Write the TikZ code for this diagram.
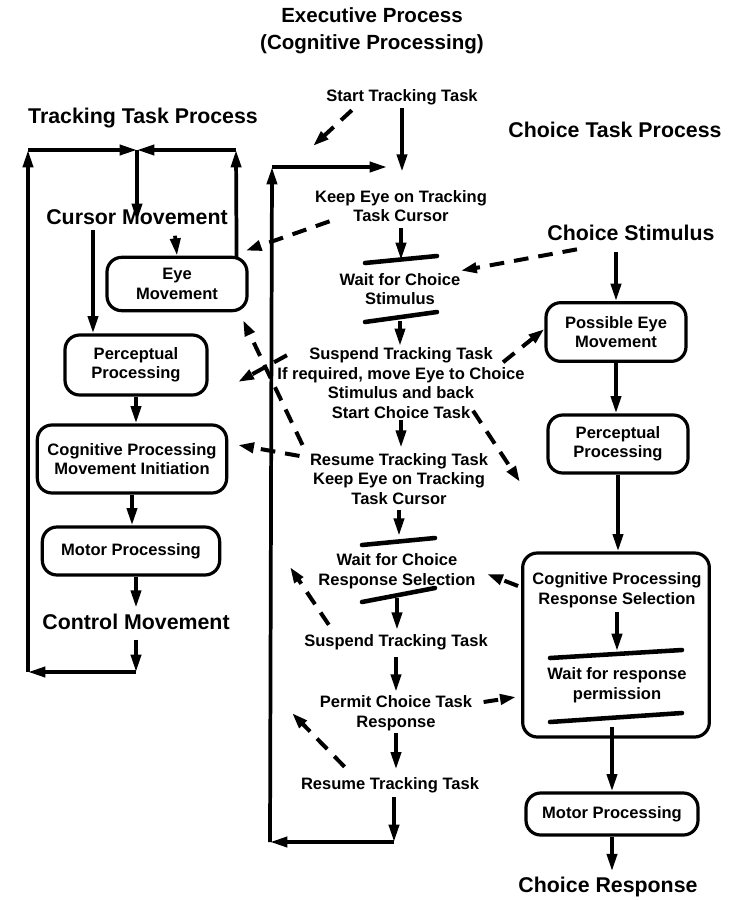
\documentclass[tikz,border=0pt]{standalone}
\usepackage{fontspec}
\setmainfont{Liberation Sans}
\usepackage{tikz}
\usetikzlibrary{arrows.meta,calc}
\tikzset{every picture/.style={line width=0.75pt}}
\tikzset{
  bigtext/.style={inner sep=0pt, align=center, font=\bfseries\fontsize{16}{20}\selectfont},
  stagetext/.style={inner sep=0pt, align=center, font=\bfseries\fontsize{12.4}{14.6}\selectfont},
  procbox/.style={draw, line width=2.4pt, rounded corners=11pt, inner sep=0pt, align=center, font=\bfseries\fontsize{12.4}{14.6}\selectfont},
  flow/.style={line width=2.8pt, -{Triangle[length=13pt,width=7.5pt]}},
  signal/.style={line width=3pt, dash pattern=on 11pt off 7.5pt, -{Triangle[length=12pt,width=7.5pt]}},
  waitbar/.style={line width=3.4pt, line cap=round},
}

\begin{document}
\begin{tikzpicture}[x=0.75pt,y=0.75pt,yscale=-1,xscale=1]
\path[use as bounding box] (0,0) rectangle (746,900);

% Text Node
\draw (372,31) node [bigtext, font=\bfseries\fontsize{15.4}{20}\selectfont] (exec) {Executive Process\\(Cognitive Processing)};
% Text Node
\draw (143,118) node [bigtext] (ttp) {Tracking Task Process};
% Text Node
\draw (615,130) node [bigtext] (ctp) {Choice Task Process};

%Tracking task process
\draw (137,217) node [bigtext] (cursor) {Cursor Movement};
\draw (177,284) node [procbox, minimum width=105pt, minimum height=40pt] (eyemv) {Eye\\Movement};
\draw (136,365) node [procbox, minimum width=106.5pt, minimum height=45pt] (percL) {Perceptual\\Processing};
\draw (132,459) node [procbox, minimum width=142pt, minimum height=51pt] (cogL) {Cognitive Processing\\Movement Initiation};
\draw (131,551) node [procbox, minimum width=133pt, minimum height=36pt] (motorL) {Motor Processing};
\draw (136,622) node [bigtext] (control) {Control Movement};

%Executive process
\draw (402,97) node [stagetext] (start) {Start Tracking Task};
\draw (401,206) node [stagetext] (keep) {Keep Eye on Tracking\\Task Cursor};
\draw (400,289) node [stagetext] (waitstim) {Wait for Choice\\Stimulus};
\draw (401,383) node [stagetext] (suspend) {Suspend Tracking Task\\If required, move Eye to Choice\\Stimulus and back\\Start Choice Task};
\draw (399,479) node [stagetext] (resume) {Resume Tracking Task\\Keep Eye on Tracking\\Task Cursor};
\draw (397,571) node [stagetext] (waitsel) {Wait for Choice\\Response Selection};
\draw (396,642) node [stagetext] (suspendb) {Suspend Tracking Task};
\draw (396,713) node [stagetext] (permit) {Permit Choice Task\\Response};
\draw (390,785) node [stagetext] (resumeb) {Resume Tracking Task};

%Choice task process
\draw (631,233) node [bigtext] (cstim) {Choice Stimulus};
\draw (616,332) node [procbox, minimum width=105pt, minimum height=44pt] (posseye) {Possible Eye\\Movement};
\draw (618,444) node [procbox, minimum width=105pt, minimum height=43.5pt] (percR) {Perceptual\\Processing};
\draw (616,645) node [procbox, minimum width=140pt, minimum height=138pt] (cogR) {};
\draw (617,590) node [stagetext] (cogRt) {Cognitive Processing\\Response Selection};
\draw (617,685) node [stagetext] (waitperm) {Wait for response\\permission};
\draw (612,814) node [procbox, minimum width=129pt, minimum height=31.5pt] (motorR) {Motor Processing};
\draw (608,887) node [bigtext] (cresp) {Choice Response};

% loop corners
\coordinate (tl) at (28,150);
\coordinate (tm) at (137,150);
\coordinate (tr) at (236,150);
\coordinate (bl) at (28,672);
\coordinate (br) at (136,672);
\coordinate (mtl) at (272,167);
\coordinate (mtr) at (387,167);
\coordinate (mbl) at (270,842);
\coordinate (mbr) at (394,842);
% free ends of the dashed arrows
\coordinate (toloop) at (313,146);
\coordinate (toeye) at (243,320);
\coordinate (toperc) at (238,382);
\coordinate (tocog) at (238,445);
\coordinate (tochoice) at (520,482);
\coordinate (towait) at (487,574);
\coordinate (tomotor) at (290,567);
\coordinate (toctrl) at (292,713);

%Straight Lines
\draw [flow] (tm) -- ([yshift=9pt]cursor.north);
\draw [flow] ($(eyemv.north)+(-2,-20)$) -- (eyemv.north);
\draw [flow] ($(cursor.south)+(-44,5)$) -- ($(percL.north)+(-43,0)$);
\draw [flow] ($(eyemv.north east)+(-12,2)$) -- (tr);
\draw [flow] (tr) -- (tm);
\draw [flow] (percL.south) -- (percL.south |- cogL.north);
\draw [flow] (cogL.south) -- (cogL.south |- motorL.north);
\draw [flow, shorten >=4.5pt] (motorL.south -| control) -- (control.north);
\draw [flow, shorten <=7pt] (control.south) -- (br);
\draw [flow] (br) -- (bl);
\draw [flow] (bl) -- (tl);
\draw [flow] (tl) -- (tm);

\draw [flow, shorten <=2pt, shorten >=13.5pt] (start.south) -- (start.south |- keep.north);
\draw [flow, shorten <=4pt, shorten >=9.5pt] (keep.south) -- (keep.south |- waitstim.north);
\draw [flow, shorten <=12pt, shorten >=1pt] (waitstim.south) -- (waitstim.south |- suspend.north);
\draw [flow, shorten <=1pt, shorten >=4pt] (suspend.south) -- (suspend.south |- resume.north);
\draw [flow, shorten <=3.5pt, shorten >=13pt] (resume.south) -- (resume.south |- waitsel.north);
\draw [flow, shorten <=7pt, shorten >=3pt] (waitsel.south) -- (waitsel.south |- suspendb.north);
\draw [flow, shorten <=5pt, shorten >=2.5pt] (suspendb.south) -- (suspendb.south |- permit.north);
\draw [flow, shorten <=1.5pt, shorten >=5.5pt] (permit.south) -- (permit.south |- resumeb.north);
\draw [flow, shorten <=3pt] (resumeb.south -| mbr) -- (mbr);
\draw [flow] (mbr) -- (mbl);
\draw [flow] (mbl) -- (mtl);
\draw [flow] (mtl) -- (mtr);

\draw [flow, shorten <=8pt] (posseye.north |- cstim.south) -- (posseye.north);
\draw [flow] (posseye.south) -- (posseye.south |- percR.north);
\draw [flow] (percR.south) -- (percR.south |- cogR.north);
\draw [flow, shorten <=3pt, shorten >=12pt] (cogRt.south) -- (cogRt.south |- waitperm.north);
\draw [flow, shorten <=18pt] (waitperm.south -| motorR) -- (motorR.north);
\draw [flow, shorten >=4pt] (motorR.south) -- (motorR.south |- cresp.north);

% wait bars
\draw [waitbar] ($(waitstim)+(-35,-26)$) -- ($(waitstim)+(37,-33)$);
\draw [waitbar] ($(waitstim)+(-35,33)$) -- ($(waitstim)+(37,23)$);
\draw [waitbar] ($(waitsel)+(-35,-26)$) -- ($(waitsel)+(38,-33)$);
\draw [waitbar] ($(waitsel)+(-35,31)$) -- ($(waitsel)+(38,17)$);
\draw [waitbar] ($(waitperm)+(-67,-27)$) -- ($(waitperm)+(65,-35)$);
\draw [waitbar] ($(waitperm)+(-67,37)$) -- ($(waitperm)+(65,28)$);

%Dashed arrows
\draw [signal] ($(start.south west)+(26,5)$) -- (toloop);
\draw [signal] ($(keep.south west)+(15,-1)$) -- ($(eyemv.north east)+(-3,-5)$);
\draw [signal] ($(cstim.south west)+(30,8)$) -- ($(waitstim.north east)+(0,-2)$);
\draw [signal] ($(suspend.north west)+(10,8)$) -- (toperc);
\draw [signal] ($(resume.north west)+(-7,-8)$) -- (toeye);
\draw [signal] ($(resume.north west)+(-10,3)$) -- (tocog);
\draw [signal] ($(suspend.south east)+(-52,-8)$) -- (tochoice);
\draw [signal] ($(suspend.north east)+(-22,15)$) -- ($(posseye.west)+(0,-3)$);
\draw [signal] ($(cogR.west)+(-3,-59)$) -- (towait);
\draw [signal] ($(permit.east)+(11,-11)$) -- ($(cogR.west)+(-5,52)$);
\draw [signal] ($(suspendb.north west)+(25,-9)$) -- (tomotor);
\draw [signal] ($(resumeb.north west)+(44,-10)$) -- (toctrl);

\end{tikzpicture}
\end{document}
